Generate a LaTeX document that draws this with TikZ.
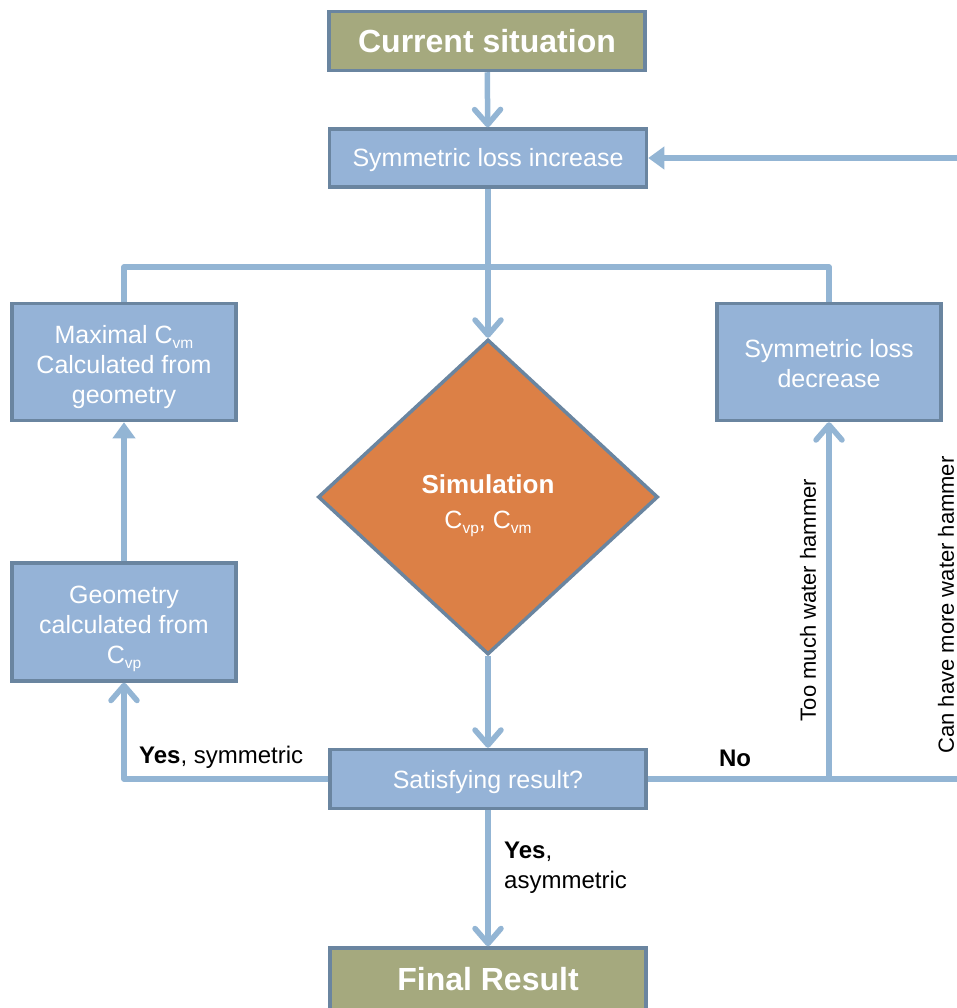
\documentclass[tikz,border=0pt]{standalone}
\usepackage{fontspec}
\setmainfont{Liberation Sans}
\usetikzlibrary{arrows.meta,shapes.geometric}

\definecolor{boxc}{HTML}{95B3D7}
\definecolor{bordc}{HTML}{6A85A0}
\definecolor{olivec}{HTML}{A5A97E}
\definecolor{orangec}{HTML}{DC8046}
\definecolor{linec}{HTML}{93B5D4}

% lowered, reduced subscript that follows the current font size
\newcommand\lowsub[1]{\raisebox{-0.22em}{\scalebox{0.62}{#1}}}
% centred lines, drawn a little lower than the box centre
\newcommand\lowered[2][4pt]{\raisebox{-#1}[\height][\depth]{\begin{tabular}{@{}c@{}}#2\end{tabular}}}

\tikzset{
  box/.style={rectangle, draw=bordc, line width=3.5pt, fill=boxc, text=white,
    align=center, inner sep=0pt, font=\fontsize{25}{30}\selectfont},
  endbox/.style={box, fill=olivec, font=\fontsize{32}{36}\selectfont\bfseries},
  decision/.style={diamond, draw=bordc, line width=3.5pt, fill=orangec, text=white,
    align=center, inner sep=0pt, font=\fontsize{25}{34}\selectfont},
  conn/.style={draw=linec, line width=5.5pt, line join=round},
  barb/.style={-{Straight Barb[length=15pt, width=26pt, round]}},
  tri/.style={-{Triangle[length=16pt, width=22pt]}},
  lbl/.style={text=black, inner sep=0pt, font=\fontsize{24}{30}\selectfont},
  vlbl/.style={lbl, rotate=90, font=\fontsize{22}{30}\selectfont},
}

\begin{document}
\begin{tikzpicture}[x=1pt, y=-1pt]
  \useasboundingbox (0,0) rectangle (957,1008);
  \clip (0,0) rectangle (957,1008);

  % boxes
  \node[endbox, minimum width=316pt, minimum height=59pt] (cur) at (487,41) {Current situation};
  \node[box, minimum width=317pt, minimum height=58pt] (inc) at (488,158)
    {\lowered[3pt]{Symmetric loss increase}};
  \node[box, minimum width=224pt, minimum height=117pt] (max) at (124,362)
    {\lowered[5pt]{Maximal C\lowsub{vm}\\Calculated from\\geometry}};
  \node[box, minimum width=224pt, minimum height=117pt] (dec) at (829,362)
    {\lowered{Symmetric loss\\decrease}};
  \node[decision, minimum width=340pt, minimum height=315pt] (sim) at (488,497)
    {\lowered[7pt]{{\fontsize{26}{34}\selectfont\bfseries Simulation}\\[1pt]C\lowsub{vp}, C\lowsub{vm}}};
  \node[box, minimum width=224pt, minimum height=118pt] (geo) at (124,622)
    {\lowered[5pt]{Geometry\\calculated from\\C\lowsub{vp}}};
  \node[box, minimum width=316pt, minimum height=59pt] (sat) at (488,779)
    {\lowered[3pt]{Satisfying result?}};
  \node[endbox, minimum width=316pt, minimum height=62pt] (fin) at (488,979) {Final Result};

  % junction below the increase box and the loop point off the right edge
  \coordinate (j) at (488,267);
  \coordinate (edge) at (985,779);

  % connectors
  \draw[conn, barb] (cur) -- (inc);
  \draw[conn, barb] (inc) -- (sim.north);
  \draw[conn] (max.north) |- (j) -| (dec.north);
  \draw[conn, barb] (sim.south) -- (sat);
  \draw[conn, barb] (sat) -- (fin);
  \draw[conn, barb] (sat.west) -| (geo.south);
  \draw[conn, tri] (geo) -- (max);
  \draw[conn, barb] (sat.east) -| (dec.south);
  \draw[conn, tri] (sat.east) -- (edge) |- (inc.east);

  % labels
  \node[lbl, anchor=west] (lys) at (139,757) {\textbf{Yes}, symmetric};
  \node[lbl, anchor=center] (lno) at (735,758) {\textbf{No}};
  \node[lbl, anchor=north west, align=left] (lya) at (504,842) {\textbf{Yes},\\asymmetric};
  \node[vlbl] (ltoo) at (808,600) {Too much water hammer};
  \node[vlbl] (lcan) at (946,605) {Can have more water hammer};
\end{tikzpicture}
\end{document}
